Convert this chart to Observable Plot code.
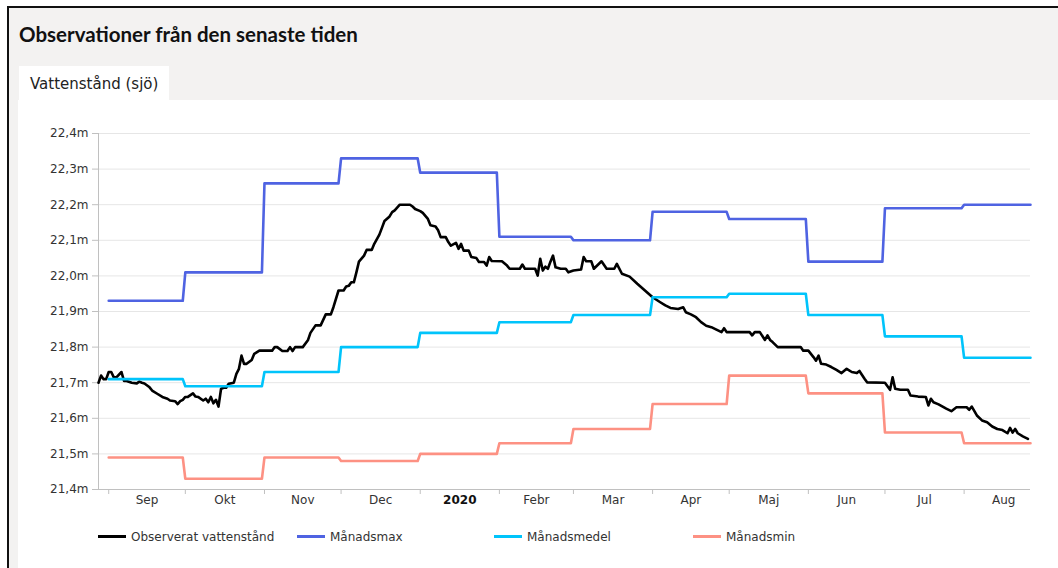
<!DOCTYPE html>
<html>
<head>
<meta charset="utf-8">
<script src="https://cdn.jsdelivr.net/npm/d3@7"></script>
<script src="https://cdn.jsdelivr.net/npm/@observablehq/plot@0.6"></script>
<style>
  html, body { margin: 0; padding: 0; background: #fff; width: 1058px; height: 568px; overflow: hidden; }
  #topline { position: absolute; left: 7px; top: 6px; width: 1051px; height: 2px; background: #111; }
  #leftline { position: absolute; left: 7px; top: 6px; width: 2px; height: 562px; background: #111; }
  #head { position: absolute; left: 9px; top: 8px; width: 1049px; height: 92px; background: #f3f2f1; }
  #strip { position: absolute; left: 9px; top: 100px; width: 9px; height: 468px; background: #f3f2f1; }
  #title { position: absolute; left: 19px; top: 22px; font-family: Lato, "Noto Sans", sans-serif; font-weight: 700; font-size: 20.5px; color: #111; white-space: nowrap; }
  #tab { position: absolute; left: 19px; top: 66px; width: 150px; height: 34px; background: #fff; }
  #tabtext { position: absolute; left: 30px; top: 75px; font-family: "DejaVu Sans", Verdana, sans-serif; font-size: 15px; color: #222; white-space: nowrap; }
  #chart { position: absolute; left: 0; top: 100px; }
  #legend { position: absolute; left: 0; top: 528px; font-family: "DejaVu Sans", Verdana, sans-serif; font-size: 12px; color: #333; }
  .item { position: absolute; top: 0; white-space: nowrap; height: 18px; line-height: 18px; }
  .sw { position: absolute; left: 0; top: 7px; width: 28px; height: 3px; }
  .lt { position: absolute; left: 33px; top: 0; }
</style>
</head>
<body>
<div id="head"></div>
<div id="strip"></div>
<div id="topline"></div>
<div id="leftline"></div>
<div id="title">Observationer från den senaste tiden</div>
<div id="tab"></div>
<div id="tabtext">Vattenstånd (sjö)</div>
<div id="chart"></div>
<div id="legend"></div>
<script>
// ---- data ----
const seriesNames = ["Observerat vattenstånd", "Månadsmax", "Månadsmedel", "Månadsmin"];
const seriesColors = ["#000000", "#4f63e2", "#00c4fb", "#fd9183"];

const monthStarts = ["2019-09-01","2019-10-01","2019-11-01","2019-12-01","2020-01-01","2020-02-01",
                     "2020-03-01","2020-04-01","2020-05-01","2020-06-01","2020-07-01","2020-08-01"];
const tickLabels = ["Sep","Okt","Nov","Dec","2020","Febr","Mar","Apr","Maj","Jun","Jul","Aug"];
const monthMax  = [21.93, 22.01, 22.26, 22.33, 22.29, 22.11, 22.10, 22.18, 22.16, 22.04, 22.19, 22.20];
const monthMean = [21.71, 21.69, 21.73, 21.80, 21.84, 21.87, 21.89, 21.94, 21.95, 21.89, 21.83, 21.77];
const monthMin  = [21.49, 21.43, 21.49, 21.48, 21.50, 21.53, 21.57, 21.64, 21.72, 21.67, 21.56, 21.53];

const yTicks = [21.4, 21.5, 21.6, 21.7, 21.8, 21.9, 22.0, 22.1, 22.2, 22.3, 22.4];

const obsDates = [
"2019-08-28","2019-08-29","2019-08-30","2019-08-31","2019-09-01","2019-09-02","2019-09-03","2019-09-04","2019-09-06","2019-09-07",
"2019-09-08","2019-09-10","2019-09-12","2019-09-13","2019-09-14","2019-09-15","2019-09-17","2019-09-18","2019-09-20","2019-09-22",
"2019-09-24","2019-09-25","2019-09-27","2019-09-28","2019-09-29","2019-09-30","2019-10-01","2019-10-02","2019-10-04","2019-10-05",
"2019-10-06","2019-10-08","2019-10-09","2019-10-10","2019-10-11","2019-10-12","2019-10-13","2019-10-14","2019-10-15","2019-10-16",
"2019-10-17","2019-10-18","2019-10-20","2019-10-21","2019-10-22","2019-10-23","2019-10-24","2019-10-25","2019-10-27","2019-10-28",
"2019-10-30","2019-11-01","2019-11-04","2019-11-05","2019-11-06","2019-11-08","2019-11-10","2019-11-11","2019-11-12","2019-11-13",
"2019-11-16","2019-11-18","2019-11-19","2019-11-21","2019-11-23","2019-11-25","2019-11-27","2019-11-28","2019-11-30","2019-12-02",
"2019-12-03","2019-12-04","2019-12-05","2019-12-06","2019-12-07","2019-12-08","2019-12-10","2019-12-11","2019-12-13","2019-12-14",
"2019-12-16","2019-12-17","2019-12-18","2019-12-20","2019-12-21","2019-12-22","2019-12-24","2019-12-28","2019-12-29","2019-12-30",
"2020-01-01","2020-01-02","2020-01-04","2020-01-05","2020-01-07","2020-01-08","2020-01-09","2020-01-11","2020-01-12","2020-01-13",
"2020-01-15","2020-01-16","2020-01-17","2020-01-18","2020-01-20","2020-01-21","2020-01-23","2020-01-24","2020-01-26","2020-01-27",
"2020-01-28","2020-01-29","2020-02-02","2020-02-04","2020-02-05","2020-02-09","2020-02-10","2020-02-11","2020-02-15","2020-02-16",
"2020-02-17","2020-02-18","2020-02-19","2020-02-20","2020-02-21","2020-02-22","2020-02-23","2020-02-25","2020-02-27","2020-02-28",
"2020-03-01","2020-03-04","2020-03-05","2020-03-06","2020-03-08","2020-03-09","2020-03-12","2020-03-14","2020-03-17","2020-03-18",
"2020-03-20","2020-03-23","2020-03-26","2020-03-29","2020-04-01","2020-04-04","2020-04-06","2020-04-08","2020-04-11","2020-04-13",
"2020-04-14","2020-04-16","2020-04-18","2020-04-20","2020-04-22","2020-04-24","2020-04-26","2020-04-28","2020-04-29","2020-04-30",
"2020-05-09","2020-05-10","2020-05-11","2020-05-13","2020-05-15","2020-05-16","2020-05-17","2020-05-18","2020-05-20","2020-05-29",
"2020-05-30","2020-06-01","2020-06-03","2020-06-04","2020-06-05","2020-06-06","2020-06-08","2020-06-10","2020-06-12","2020-06-14",
"2020-06-16","2020-06-18","2020-06-20","2020-06-21","2020-06-23","2020-06-24","2020-07-01","2020-07-03","2020-07-04","2020-07-05",
"2020-07-07","2020-07-10","2020-07-11","2020-07-14","2020-07-17","2020-07-18","2020-07-19","2020-07-20","2020-07-22","2020-07-25",
"2020-07-27","2020-07-29","2020-08-02","2020-08-03","2020-08-04","2020-08-06","2020-08-08","2020-08-10","2020-08-12","2020-08-14",
"2020-08-16","2020-08-18","2020-08-19","2020-08-20","2020-08-21","2020-08-22","2020-08-24","2020-08-26"
];
const obsValues = [
21.700,21.720,21.710,21.710,21.730,21.730,21.715,21.715,21.730,21.705,
21.705,21.700,21.698,21.703,21.700,21.698,21.687,21.678,21.669,21.660,
21.655,21.650,21.648,21.640,21.648,21.652,21.660,21.660,21.670,21.661,
21.660,21.650,21.655,21.645,21.660,21.642,21.652,21.633,21.683,21.686,
21.686,21.697,21.700,21.725,21.739,21.776,21.753,21.753,21.764,21.781,
21.790,21.790,21.790,21.800,21.800,21.789,21.789,21.800,21.789,21.800,
21.800,21.819,21.840,21.861,21.861,21.892,21.892,21.912,21.959,21.959,
21.970,21.972,21.982,21.982,22.010,22.040,22.057,22.073,22.073,22.090,
22.116,22.135,22.154,22.167,22.179,22.184,22.200,22.200,22.195,22.188,
22.182,22.177,22.160,22.142,22.139,22.128,22.109,22.109,22.095,22.085,
22.093,22.076,22.090,22.071,22.071,22.053,22.050,22.039,22.039,22.029,
22.053,22.042,22.041,22.029,22.020,22.020,22.032,22.020,22.020,22.001,
22.048,22.015,22.026,22.020,22.040,22.057,22.024,22.020,22.020,22.010,
22.015,22.018,22.053,22.041,22.041,22.020,22.041,22.020,22.020,22.034,
22.006,21.998,21.978,21.959,21.940,21.926,21.917,21.910,21.907,21.912,
21.898,21.892,21.884,21.870,21.860,21.856,21.849,21.842,21.853,21.842,
21.842,21.833,21.842,21.842,21.820,21.833,21.820,21.814,21.800,21.800,
21.790,21.790,21.772,21.762,21.776,21.753,21.751,21.744,21.736,21.727,
21.739,21.730,21.727,21.733,21.711,21.701,21.700,21.680,21.715,21.683,
21.680,21.680,21.664,21.661,21.660,21.636,21.655,21.645,21.639,21.627,
21.620,21.631,21.631,21.624,21.633,21.608,21.594,21.589,21.577,21.570,
21.567,21.558,21.573,21.560,21.570,21.558,21.549,21.542
];

const domainStart = "2019-08-28";
const domainEnd = "2020-08-27";

// ---- build tables ----
const DAY = 864e5;
const x0 = new Date(domainStart), x1 = new Date(domainEnd);
const obs = obsDates.map((d, i) => ({date: new Date(d), value: obsValues[i]}));

const starts = monthStarts.map(d => new Date(d));
const nextStarts = starts.map((d, i) => i < starts.length - 1 ? starts[i + 1] : new Date(Date.UTC(d.getUTCFullYear(), d.getUTCMonth() + 1, 1)));
const steps = [];
[[seriesNames[1], monthMax], [seriesNames[2], monthMean], [seriesNames[3], monthMin]].forEach(([name, vals]) => {
  vals.forEach((v, i) => {
    const end = new Date(Math.min(+nextStarts[i] - DAY, +x1));
    steps.push({series: name, date: starts[i], value: v});
    steps.push({series: name, date: end, value: v});
  });
});
const labels = starts.map((d, i) => ({date: new Date((+d + +nextStarts[i]) / 2), text: tickLabels[i], bold: tickLabels[i] === "2020"}));

const fmt = v => v.toFixed(1).replace(".", ",") + "m";

const plot = Plot.plot({
  width: 1058,
  height: 420,
  marginLeft: 98,
  marginRight: 28,
  marginTop: 33,
  marginBottom: 31,
  style: {fontFamily: "'DejaVu Sans', Verdana, sans-serif", fontSize: "12px", background: "transparent", color: "#333"},
  x: {type: "utc", domain: [x0, x1]},
  y: {domain: [21.4, 22.4]},
  color: {domain: seriesNames, range: seriesColors},
  marks: [
    Plot.gridY(yTicks.slice(1), {stroke: "#e6e6e6", strokeOpacity: 1}),
    Plot.axisY({ticks: yTicks, tickSize: 6, tickPadding: 4, tickFormat: fmt, label: null, stroke: "#c0c0c0", fill: "#333", fontSize: 12}),
    Plot.axisX({ticks: starts, tickSize: 5, tickFormat: () => "", label: null, stroke: "#c0c0c0"}),
    Plot.ruleX([x0], {stroke: "#c0c0c0"}),
    Plot.ruleY([21.4], {stroke: "#c0c0c0"}),
    Plot.text(labels.filter(d => !d.bold), {x: "date", frameAnchor: "bottom", dy: 14, text: "text", fill: "#333", fontSize: 12}),
    Plot.text(labels.filter(d => d.bold), {x: "date", frameAnchor: "bottom", dy: 14, text: "text", fill: "#111", fontSize: 12, fontWeight: "bold"}),
    Plot.line(obs, {x: "date", y: "value", stroke: seriesColors[0], strokeWidth: 2.6, curve: "linear"}),
    Plot.line(steps, {x: "date", y: "value", z: "series", stroke: "series", strokeWidth: 2.6, curve: "linear"})
  ]
});
document.getElementById("chart").appendChild(plot);

// ---- legend ----
const legend = document.getElementById("legend");
const lx = [98, 297, 494, 693];
seriesNames.forEach((name, i) => {
  const it = document.createElement("div");
  it.className = "item";
  it.style.left = lx[i] + "px";
  it.innerHTML = `<div class="sw" style="background:${seriesColors[i]}"></div><div class="lt">${name}</div>`;
  legend.appendChild(it);
});
</script>
</body>
</html>
